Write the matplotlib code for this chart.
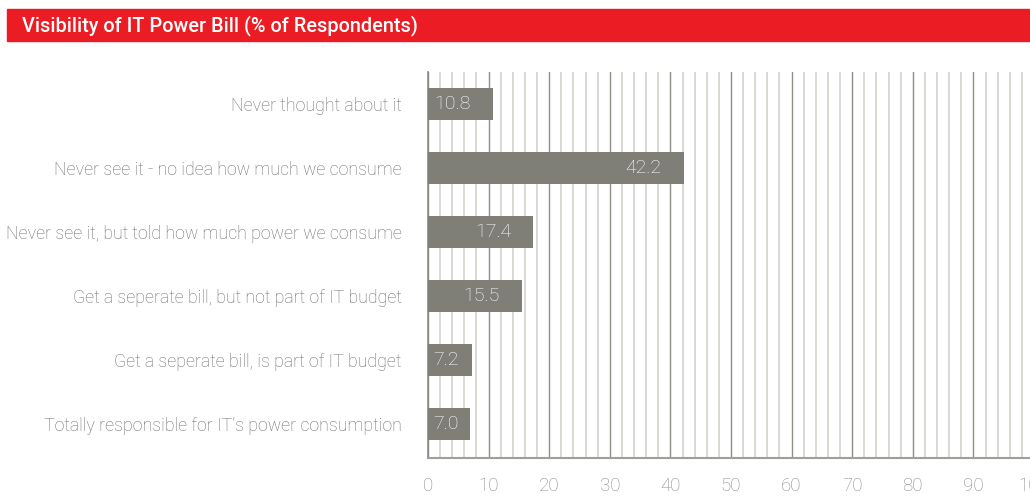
import matplotlib.pyplot as plt
from matplotlib.patches import Rectangle
from matplotlib.ticker import MultipleLocator

# data
categories = [
    "Never thought about it",
    "Never see it - no idea how much we consume",
    "Never see it, but told how much power we consume",
    "Get a seperate bill, but not part of IT budget",
    "Get a seperate bill, is part of IT budget",
    "Totally responsible for IT\u2019s power consumption",
]
values = [10.8, 42.2, 17.4, 15.5, 7.2, 7.0]
title = "Visibility of IT Power Bill (% of Respondents)"

plt.rcParams['font.family'] = ['Roboto', 'DejaVu Sans']
plt.rcParams['font.weight'] = 'light'

fig = plt.figure(figsize=(10.30, 4.96), dpi=100)

# red title band
fig.patches.append(Rectangle((7 / 1030, 1 - 41 / 496), 1, 32 / 496,
                             transform=fig.transFigure, color='#ec1c24', zorder=0))
fig.text(22 / 1030, 1 - 26 / 496, title, color='white', fontsize=14.3,
         fontweight='medium', va='center', ha='left')

ax = fig.add_axes([428 / 1030, 38 / 496, 606 / 1030, 386 / 496])
y = range(len(categories))
ax.barh(y, values, height=0.5, color='#7f7f77', zorder=3)
ax.set_xlim(0, 100)
ax.set_ylim(len(categories) - 0.47, -0.5)

# grid: light lines every 2, darker every 10
ax.xaxis.set_major_locator(MultipleLocator(10))
ax.xaxis.set_minor_locator(MultipleLocator(2))
ax.grid(which='minor', axis='x', color='#cfcfc8', linewidth=1.1, zorder=1)
ax.grid(which='major', axis='x', color='#8e8e86', linewidth=1.0, zorder=2)
ax.tick_params(axis='x', which='both', length=0, colors='#8a8a86',
               labelsize=13.5, pad=14)
ax.tick_params(axis='y', length=0, colors='#6e6e6e', labelsize=12.8, pad=19)
ax.set_yticks(list(y))
ax.set_yticklabels(categories)

for s in ['top', 'right']:
    ax.spines[s].set_visible(False)
ax.spines['left'].set_color('#8c8c84')
ax.spines['bottom'].set_color('#a0a09a')
ax.spines['left'].set_linewidth(1.2)
ax.spines['bottom'].set_linewidth(1.5)

# value labels inside bars
for i, v in enumerate(values):
    if v < 10:
        ax.text(0.8, i, f"{v:.1f}", color='white', fontsize=14,
                va='center', ha='left', zorder=4)
    else:
        ax.text(v - 3.7, i, f"{v:.1f}", color='white', fontsize=14,
                va='center', ha='right', zorder=4)

fig.savefig('out.png', dpi=100)
